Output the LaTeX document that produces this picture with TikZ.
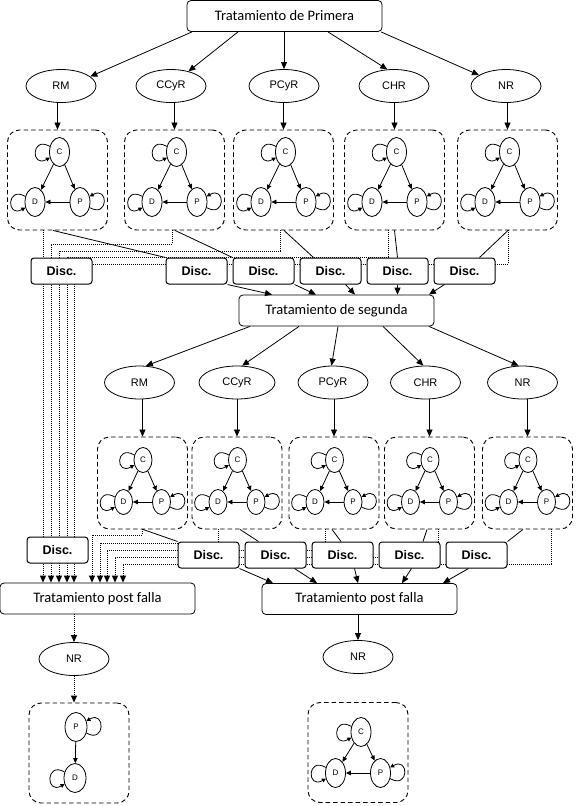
\documentclass[tikz,border=0pt]{standalone}
\usepackage{fontspec}
\setmainfont{Liberation Sans}
\newfontfamily\calfont{Carlito}
\usetikzlibrary{arrows.meta,positioning,calc,shapes.geometric}

% three states C, D, P inside a group box
\newcommand{\triad}[6]{%
  \node[st] (#1C) at ($(#2.center)+(#6,#4)$) {C};
  \node[st] (#1D) at ($(#2.center)+(-#3,-#5)$) {D};
  \node[st] (#1P) at ($(#2.center)+(#3,-#5)$) {P};
  \path[sm]
  (#1C) edge (#1D)
  (#1C) edge (#1P)
  (#1P) edge (#1D)
  (#1C) edge[lp, out=150, in=210] (#1C)
  (#1D) edge[lp, out=150, in=210] (#1D)
  (#1P) edge[lp, out=-30, in=30] (#1P);
}

\begin{document}
\begin{tikzpicture}[->, >={Triangle[length=7pt,width=6pt]}, x=1pt, y=1pt, line width=0.8pt]
		\tikzstyle{tbox}=[draw, rectangle, rounded corners=4pt, fill=white, minimum width=195pt, minimum height=31pt, font=\calfont\fontsize{14.5}{16}\selectfont]
		\tikzstyle{ell}=[draw, ellipse, minimum width=70pt, minimum height=33pt, inner sep=0pt, font=\fontsize{11}{13}\selectfont]
		\tikzstyle{grp}=[draw, rectangle, rounded corners=12pt, line width=0.9pt, dash pattern=on 4.5pt off 3pt, minimum width=100pt, minimum height=100pt]
		\tikzstyle{st}=[draw, ellipse, minimum width=20pt, minimum height=29pt, inner sep=0pt, font=\fontsize{8}{9}\selectfont]
		\tikzstyle{disc}=[draw, rectangle, rounded corners=3pt, fill=white, line width=1pt, minimum width=61pt, minimum height=26pt, font=\bfseries\fontsize{12.5}{14}\selectfont]
		\tikzstyle{dot}=[line width=1pt, dash pattern=on 1pt off 1pt]
		\tikzstyle{sm}=[>={Triangle[length=5pt,width=4.5pt]}]
		\tikzstyle{lp}=[min distance=22pt, >={Triangle[length=4pt,width=4pt]}]
		\useasboundingbox (0,0) rectangle (576,-806);

		% primera
		\node[tbox] (prim) at (284.5,-16) {Tratamiento de Primera};
		\node[ell] (RM1) at (61,-86) {RM};
		\node[ell] (CCyR1) at (171,-86) {CCyR};
		\node[ell] (PCyR1) at (284,-86) {PCyR};
		\node[ell] (CHR1) at (394,-86) {CHR};
		\node[ell] (NR1) at (506,-86) {NR};
		\node[grp] (b1) at (57.5,-180) {};
		\node[grp] (b2) at (174.5,-180) {};
		\node[grp] (b3) at (283.5,-180) {};
		\node[grp] (b4) at (394.5,-180) {};
		\node[grp] (b5) at (507.5,-180) {};
		\path
		([xshift=-92.5pt]prim.south) edge (RM1.18)
		([xshift=-46.5pt]prim.south) edge (CCyR1.40)
		(PCyR1.north |- prim.south) edge (PCyR1.north)
		([xshift=43.5pt]prim.south) edge (CHR1.112)
		([xshift=96.5pt]prim.south) edge (NR1.158)
		(b1.north |- RM1.south) edge (b1.north)
		(b2.north |- CCyR1.south) edge (b2.north)
		(b3.north |- PCyR1.south) edge (b3.north)
		(b4.north |- CHR1.south) edge (b4.north)
		(b5.north |- NR1.south) edge (b5.north);
		\triad{t1}{b1}{22.5}{28}{22}{2}
		\triad{t2}{b2}{22.5}{28}{22}{2}
		\triad{t3}{b3}{22.5}{28}{22}{2}
		\triad{t4}{b4}{22.5}{28}{22}{2}
		\triad{t5}{b5}{22.5}{28}{22}{2}

		% segunda
		\node[tbox] (seg) at (336.5,-310.5) {Tratamiento de segunda};
		\node[ell] (RM2) at (139.5,-382.5) {RM};
		\node[ell, minimum width=76pt] (CCyR2) at (237,-382.5) {CCyR};
		\node[ell] (PCyR2) at (333,-382.5) {PCyR};
		\node[ell] (CHR2) at (425.5,-382.5) {CHR};
		\node[ell] (NR2) at (522.5,-382.5) {NR};
		\begin{scope}[grp/.append style={minimum width=90pt, minimum height=92pt}, st/.append style={minimum width=18pt, minimum height=25pt}]
		\node[grp] (c1) at (142.5,-483) {};
		\node[grp] (c2) at (237,-483) {};
		\node[grp] (c3) at (334,-483) {};
		\node[grp] (c4) at (429.5,-483) {};
		\node[grp] (c5) at (527.5,-483) {};
		\triad{u1}{c1}{19}{23}{19}{0.5}
		\triad{u2}{c2}{19}{23}{19}{0.5}
		\triad{u3}{c3}{19}{23}{19}{0.5}
		\triad{u4}{c4}{19}{23}{19}{0.5}
		\triad{u5}{c5}{19}{23}{19}{0.5}
		\end{scope}
		\path
		([xshift=-86.5pt]seg.south) edge (RM2.69)
		([xshift=-37.5pt]seg.south) edge (CCyR2.73)
		([xshift=1.5pt]seg.south) edge (PCyR2.95)
		([xshift=46.5pt]seg.south) edge (CHR2.97)
		([xshift=92.5pt]seg.south) edge (NR2.103)
		(c1.north |- RM2.south) edge (c1.north)
		(c2.north |- CCyR2.south) edge (c2.north)
		(c3.north |- PCyR2.south) edge (c3.north)
		(c4.north |- CHR2.south) edge (c4.north)
		(c5.north |- NR2.south) edge (c5.north);

		% post falla
		\node[tbox] (postA) at (97.5,-598.5) {Tratamiento post falla};
		\node[tbox] (postB) at (359.5,-599) {Tratamiento post falla};
		\node[ell] (NR3) at (74,-659) {NR};
		\node[ell] (NR4) at (358,-657) {NR};
		\node[grp] (g1) at (79,-753) {};
		\node[grp] (g2) at (358,-752.5) {};
		\node[st, minimum width=22pt] (vP) at ($(g1.center)+(-3,26)$) {P};
		\node[st, minimum width=22pt] (vD) at ($(g1.center)+(-4,-25)$) {D};
		\path[sm]
		(vP) edge (vD)
		(vP) edge[lp, out=-30, in=30] (vP)
		(vD) edge[lp, out=150, in=210] (vD);
		\triad{w}{g2}{22.5}{20.5}{20.5}{3}
		\draw[dot] (NR3.north |- postA.south) -- (NR3.north);
		\draw[dot] (NR3.south) -- (NR3.south |- g1.north);
		\draw (NR4.north |- postB.south) -- (NR4.north);

		% dotted routes to post falla
		\draw[dot] ([xshift=-14.5pt]b1.south) -- ([xshift=-54.5pt]postA.north);
		\draw[dot] ([xshift=-2.5pt]b2.south) -- ++(0,-14) -| ([xshift=-46.5pt]postA.north);
		\draw[dot] ([xshift=-3.5pt]b3.south) -- ++(0,-21) -| ([xshift=-38.5pt]postA.north);
		\draw[dot] ([xshift=-6.5pt]b4.south) -- ++(0,-27) -| ([xshift=-30.5pt]postA.north);
		\draw[dot] ([xshift=0.5pt]b5.south) -- ++(0,-34) -| ([xshift=-23.5pt]postA.north);
		\draw[dot] ([xshift=-0.5pt]c1.south) -- ++(0,-6) -| ([xshift=-5.5pt]postA.north);
		\draw[dot] ([xshift=-19pt]c2.south) -- ++(0,-14) -| ([xshift=2.5pt]postA.north);
		\draw[dot] ([xshift=-9pt]c3.south) -- ++(0,-21) -| ([xshift=9.5pt]postA.north);
		\draw[dot] ([xshift=8.5pt]c4.south) -- ++(0,-28) -| ([xshift=17.5pt]postA.north);
		\draw[dot] ([xshift=23.5pt]c5.south) -- ++(0,-35) -| ([xshift=25.5pt]postA.north);

		% Disc.
		\node[disc] (X0) at (61.5,-271) {Disc.};
		\node[disc] (X1) at (196.5,-271) {Disc.};
		\node[disc] (X2) [right = 5pt of X1] {Disc.};
		\node[disc] (X3) [right = 5pt of X2] {Disc.};
		\node[disc] (X4) [right = 5pt of X3] {Disc.};
		\node[disc] (X5) [right = 5pt of X4] {Disc.};
		\node[disc] (Y0) at (57.5,-550) {Disc.};
		\node[disc] (Y1) at (208.5,-555) {Disc.};
		\node[disc] (Y2) [right = 5pt of Y1] {Disc.};
		\node[disc] (Y3) [right = 5pt of Y2] {Disc.};
		\node[disc] (Y4) [right = 5pt of Y3] {Disc.};
		\node[disc] (Y5) [right = 5pt of Y4] {Disc.};

		\draw[-] ([xshift=-4.5pt]b1.south) -- (X1.north west);
		\draw[-] ([xshift=0.5pt]b2.south) -- (X2.north west);
		\draw[-] ([xshift=0.5pt]b3.south) -- ([xshift=-17pt]X3.north);
		\draw[-] (b4.south) -- (X4.north);
		\draw[-] ([xshift=0.5pt]b5.south) -- ([xshift=15pt]X5.north);
		\draw (X1.south east) -- ([xshift=-64.5pt]seg.north);
		\draw (X2.south east) -- ([xshift=-20.5pt]seg.north);
		\draw ([xshift=15pt]X3.south) -- ([xshift=18.5pt]seg.north);
		\draw (X4.south) -- (X4.south |- seg.north);
		\draw ([xshift=-20pt]X5.south) -- ([xshift=92.5pt]seg.north);

		\draw[-] ([xshift=0.5pt]c1.south) -- (Y1.north west);
		\draw[-] ([xshift=3pt]c2.south) -- ([xshift=-17pt]Y2.north);
		\draw[-] ([xshift=-2pt]c3.south) -- ([xshift=-1.5pt]Y3.north);
		\draw[-] ([xshift=-2.5pt]c4.south) -- ([xshift=13.5pt]Y4.north);
		\draw[-] ([xshift=-4.5pt]c5.south) -- (Y5.north east);
		\draw (Y1.south east) -- ([xshift=-86.5pt]postB.north);
		\draw ([xshift=-12pt]Y2.south east) -- ([xshift=-42.5pt]postB.north);
		\draw ([xshift=12pt]Y3.south) -- ([xshift=-1.5pt]postB.north);
		\draw ([xshift=2pt]Y4.south) -- ([xshift=42.5pt]postB.north);
		\draw ([xshift=-8pt]Y5.south) -- ([xshift=83.5pt]postB.north);
	\end{tikzpicture}
\end{document}
